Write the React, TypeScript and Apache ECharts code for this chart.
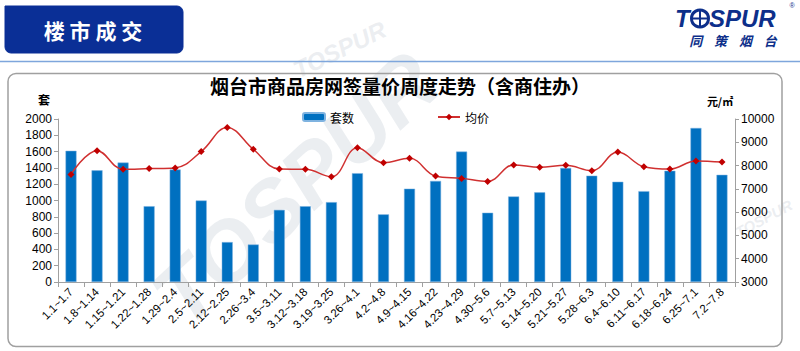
import React, { useEffect, useRef } from "react";
import * as echarts from "echarts";

const categories = [
  "1.1~1.7", "1.8~1.14", "1.15~1.21", "1.22~1.28", "1.29~2.4", "2.5~2.11",
  "2.12~2.25", "2.26~3.4", "3.5~3.11", "3.12~3.18", "3.19~3.25", "3.26~4.1",
  "4.2~4.8", "4.9~4.15", "4.16~4.22", "4.23~4.29", "4.30~5.6", "5.7~5.13",
  "5.14~5.20", "5.21~5.27", "5.28~6.3", "6.4~6.10", "6.11~6.17", "6.18~6.24",
  "6.25~7.1", "7.2~7.8",
];
const units = [
  1610, 1370, 1465, 930, 1380, 1000, 490, 460, 885, 930, 980, 1335,
  830, 1145, 1240, 1600, 850, 1050, 1100, 1400, 1305, 1230, 1115, 1365,
  1890, 1315,
];
const avgPrice = [
  7620, 8640, 7840, 7870, 7900, 8600, 9640, 8700, 7850, 7840, 7520, 8770,
  8120, 8310, 7550, 7450, 7320, 8025, 7925, 8010, 7780, 8580, 7950, 7850,
  8200, 8150,
];
const seriesNames = ["套数", "均价"];
const titleText = "烟台市商品房网签量价周度走势（含商住办）";

export default function App() {
  const ref = useRef<HTMLDivElement>(null);
  useEffect(() => {
    if (!ref.current) return;
    const chart = echarts.init(ref.current, null, { renderer: "svg" });
    const font = "Liberation Sans, Arial, sans-serif";
    const cjk = "Noto Sans CJK SC, sans-serif";
    const wm = "rgba(205,212,220,0.4)";
    const plain = (v: number) => String(v);
    const wmStyle = (size: number) => ({
      text: "TOSPUR", fontSize: size, fontWeight: "bold", fontStyle: "italic",
      fill: wm, fontFamily: font, verticalAlign: "bottom",
    });
    chart.setOption({
      animation: false,
      backgroundColor: "#ffffff",
      textStyle: { fontFamily: font },
      graphic: [
        // watermarks
        { type: "text", x: 300, y: 82, rotation: 0.45, z: -10, silent: true, style: wmStyle(24) },
        { type: "text", x: 195, y: 340, rotation: 0.75, z: -10, silent: true, style: wmStyle(85) },
        { type: "text", x: 740, y: 240, rotation: 0.5, z: -10, silent: true, style: wmStyle(15) },
        // header box
        { type: "rect", shape: { x: 5, y: 6, width: 178, height: 47, r: [0, 6, 6, 6] },
          style: { fill: "#0a2f96", stroke: "#0a2f96" } },
        { type: "text", x: 93, y: 30,
          style: { text: "楼 市 成 交", fill: "#ffffff", fontSize: 21, fontWeight: "bold", fontFamily: cjk, align: "center", verticalAlign: "middle" } },
        { type: "line", shape: { x1: 0, y1: 61.5, x2: 800, y2: 61.5 },
          style: { stroke: "#7ea6dc", lineWidth: 1.5 } },
        // logo
        { type: "text", x: 675, y: 18.5,
          style: { text: "T", fill: "#0d2f8a", fontSize: 24, fontWeight: "bold", fontStyle: "italic", fontFamily: font, verticalAlign: "middle" } },
        { type: "circle", shape: { cx: 700, cy: 18.5, r: 8.5 },
          style: { fill: "#ffffff", stroke: "#0d2f8a", lineWidth: 3 } },
        { type: "line", shape: { x1: 691, y1: 18.5, x2: 709, y2: 18.5 }, style: { stroke: "#0d2f8a", lineWidth: 2 } },
        { type: "line", shape: { x1: 700, y1: 10, x2: 700, y2: 27 }, style: { stroke: "#0d2f8a", lineWidth: 2 } },
        { type: "text", x: 709, y: 18.5,
          style: { text: "SPUR", fill: "#0d2f8a", fontSize: 24, fontWeight: "bold", fontStyle: "italic", fontFamily: font, verticalAlign: "middle" } },
        { type: "text", x: 792, y: 5,
          style: { text: "®", fill: "#0d2f8a", fontSize: 7, fontFamily: font, align: "center", verticalAlign: "middle" } },
        { type: "text", x: 733, y: 40.5,
          style: { text: "同    策    烟    台", fill: "#0d2f8a", fontSize: 13, fontWeight: "bold", fontStyle: "italic", fontFamily: cjk, align: "center", verticalAlign: "middle" } },
        // frame
        { type: "rect", z: -5, shape: { x: 8, y: 73.5, width: 774, height: 273, r: 8 },
          style: { fill: "none", stroke: "#a0a0a0", lineWidth: 1.5 } },
        // units
        { type: "text", x: 44, y: 99,
          style: { text: "套", fill: "#000", fontSize: 12, fontWeight: "bold", fontFamily: cjk, align: "center", verticalAlign: "middle" } },
        { type: "text", x: 720, y: 101,
          style: { text: "元/㎡", fill: "#000", fontSize: 11, fontWeight: "bold", fontFamily: cjk, align: "center", verticalAlign: "middle" } },
      ],
      title: {
        text: titleText,
        left: "center",
        top: 71,
        textStyle: { fontFamily: cjk, fontSize: 19, fontWeight: "bold", color: "#000" },
      },
      legend: {
        data: seriesNames,
        left: 297,
        top: 106,
        itemGap: 83,
        itemWidth: 22,
        itemHeight: 8,
        textStyle: { fontFamily: cjk, fontSize: 12, color: "#000" },
      },
      grid: { left: 58, right: 65, top: 119, bottom: 69 },
      xAxis: {
        type: "category",
        data: categories,
        axisLine: { lineStyle: { color: "#a0a0a0" } },
        axisTick: { show: true, alignWithLabel: false, length: 5, lineStyle: { color: "#a0a0a0" } },
        axisLabel: { interval: 0, rotate: 45, fontSize: 11.5, color: "#000", margin: 8, fontFamily: font },
      },
      yAxis: [
        {
          type: "value", min: 0, max: 2000, interval: 200,
          axisLine: { show: true, lineStyle: { color: "#a0a0a0" } },
          axisTick: { show: true, length: 4, lineStyle: { color: "#a0a0a0" } },
          splitLine: { show: false },
          axisLabel: { fontSize: 12, color: "#000", margin: 6, fontFamily: font, formatter: plain },
        },
        {
          type: "value", min: 3000, max: 10000, interval: 1000,
          axisLine: { show: true, lineStyle: { color: "#a0a0a0" } },
          axisTick: { show: true, length: 4, lineStyle: { color: "#a0a0a0" } },
          splitLine: { show: false },
          axisLabel: { fontSize: 12, color: "#000", margin: 6, fontFamily: font, formatter: plain },
        },
      ],
      series: [
        {
          name: seriesNames[0],
          type: "bar",
          data: units,
          barWidth: 11,
          itemStyle: { color: "#0070c0", borderColor: "#7fb3e0", borderWidth: 0.5 },
        },
        {
          name: seriesNames[1],
          type: "line",
          yAxisIndex: 1,
          data: avgPrice,
          smooth: 0.4,
          symbol: "diamond",
          symbolSize: 7,
          lineStyle: { color: "#d03030", width: 1.5 },
          itemStyle: { color: "#c00000" },
        },
      ],
    });
    return () => chart.dispose();
  }, []);
  return (
    <div
      ref={ref}
      style={{ position: "fixed", left: 0, top: 0, width: 800, height: 351 }}
    />
  );
}
